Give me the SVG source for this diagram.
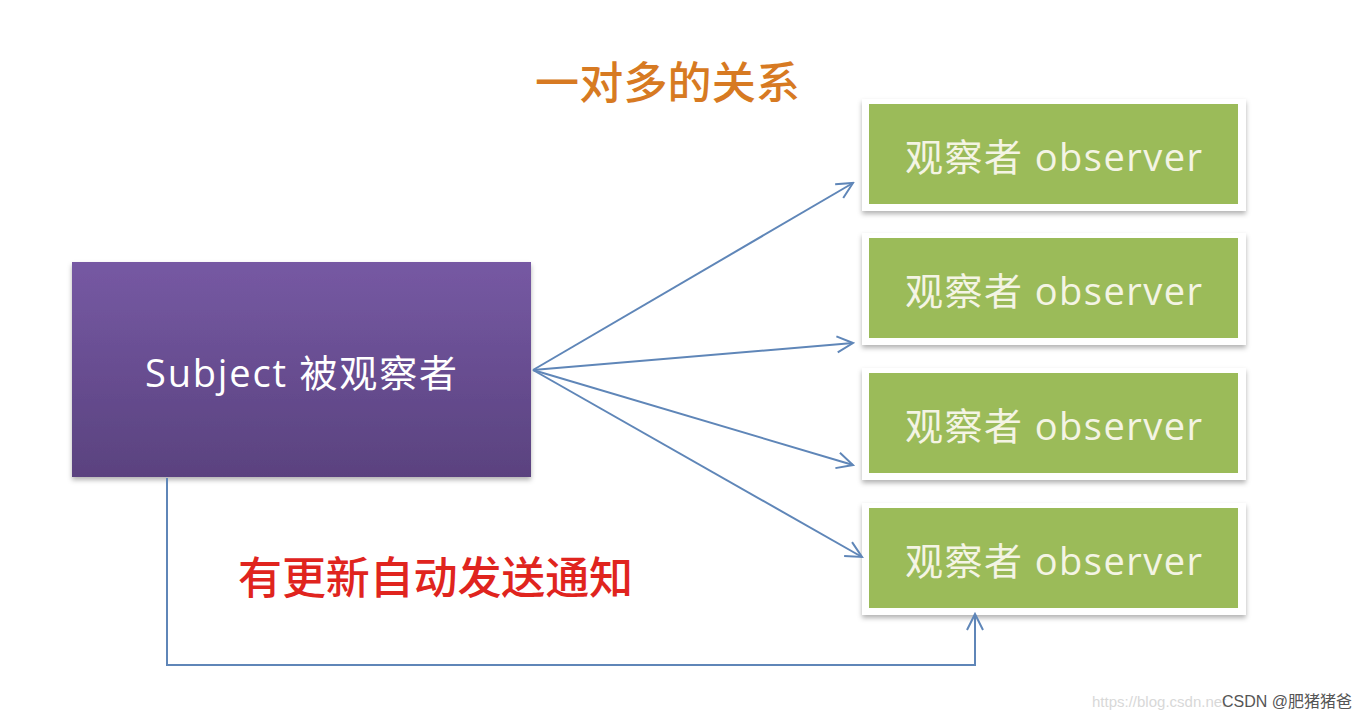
<svg xmlns="http://www.w3.org/2000/svg" width="1372" height="720" viewBox="0 0 1372 720">
<style>
.obs{font-family:"Open Sans","Noto Sans CJK SC",sans-serif;font-size:38px;fill:#f4f4e4}
.frame{fill:#ffffff;filter:url(#sh)}
.green{fill:#9bbb59}
.conn{fill:none;stroke:#5f86b8;stroke-width:2}
</style>
<defs>
<linearGradient id="pg" x1="0" y1="0" x2="0" y2="1">
<stop offset="0" stop-color="#7659a3"/>
<stop offset="1" stop-color="#5a427f"/>
</linearGradient>
<filter id="sh" x="-10%" y="-10%" width="120%" height="130%">
<feDropShadow dx="0" dy="3" stdDeviation="2.5" flood-color="#000" flood-opacity="0.3"/>
</filter>
<marker id="ah" viewBox="0 0 20 20" refX="18" refY="10" markerWidth="20" markerHeight="20" markerUnits="userSpaceOnUse" orient="auto">
<path d="M2 2 L18 10 L2 18" fill="none" stroke="#5f86b8" stroke-width="2"/>
</marker>
</defs>
<rect width="1372" height="720" fill="#ffffff"/>
<text x="535" y="99" font-family="'Noto Sans CJK SC',sans-serif" font-size="44" font-weight="500" fill="#d77a22" textLength="265">一对多的关系</text>
<g id="subject">
<rect x="72" y="262" width="459" height="215" fill="url(#pg)" filter="url(#sh)"/>
<text x="145" y="387" font-family="'Open Sans','Noto Sans CJK SC',sans-serif" font-size="38" fill="#ffffff" textLength="312">Subject 被观察者</text>
</g>
<g id="observer1">
<rect class="frame" x="862" y="99" width="384" height="112"/>
<rect class="green" x="869" y="104" width="369" height="100"/>
<text class="obs" x="905" y="171" textLength="297">观察者 observer</text>
</g>
<g id="observer2">
<rect class="frame" x="862" y="233" width="384" height="112"/>
<rect class="green" x="869" y="238" width="369" height="100"/>
<text class="obs" x="905" y="305" textLength="297">观察者 observer</text>
</g>
<g id="observer3">
<rect class="frame" x="862" y="368" width="384" height="112"/>
<rect class="green" x="869" y="373" width="369" height="100"/>
<text class="obs" x="905" y="440" textLength="297">观察者 observer</text>
</g>
<g id="observer4">
<rect class="frame" x="862" y="503" width="384" height="112"/>
<rect class="green" x="869" y="508" width="369" height="100"/>
<text class="obs" x="905" y="575" textLength="297">观察者 observer</text>
</g>
<g id="connectors">
<line class="conn" x1="533" y1="370" x2="853" y2="183" marker-end="url(#ah)"/>
<line class="conn" x1="533" y1="370" x2="853" y2="343" marker-end="url(#ah)"/>
<line class="conn" x1="533" y1="370" x2="853" y2="465" marker-end="url(#ah)"/>
<line class="conn" x1="533" y1="370" x2="862" y2="557" marker-end="url(#ah)"/>
<polyline class="conn" points="167,478 167,665 975,665 975,614" marker-end="url(#ah)"/>
</g>
<text x="238" y="594" font-family="'Noto Sans CJK SC',sans-serif" font-size="44" font-weight="500" fill="#e0241e" textLength="395">有更新自动发送通知</text>
<text x="1092" y="707" font-family="'Liberation Sans',sans-serif" font-size="15" fill="#d8d8d8">https://blog.csdn.net</text>
<text x="1222" y="707" font-family="'Liberation Sans','Noto Sans CJK SC',sans-serif" font-size="16" fill="#555555">CSDN @肥猪猪爸</text>
</svg>
